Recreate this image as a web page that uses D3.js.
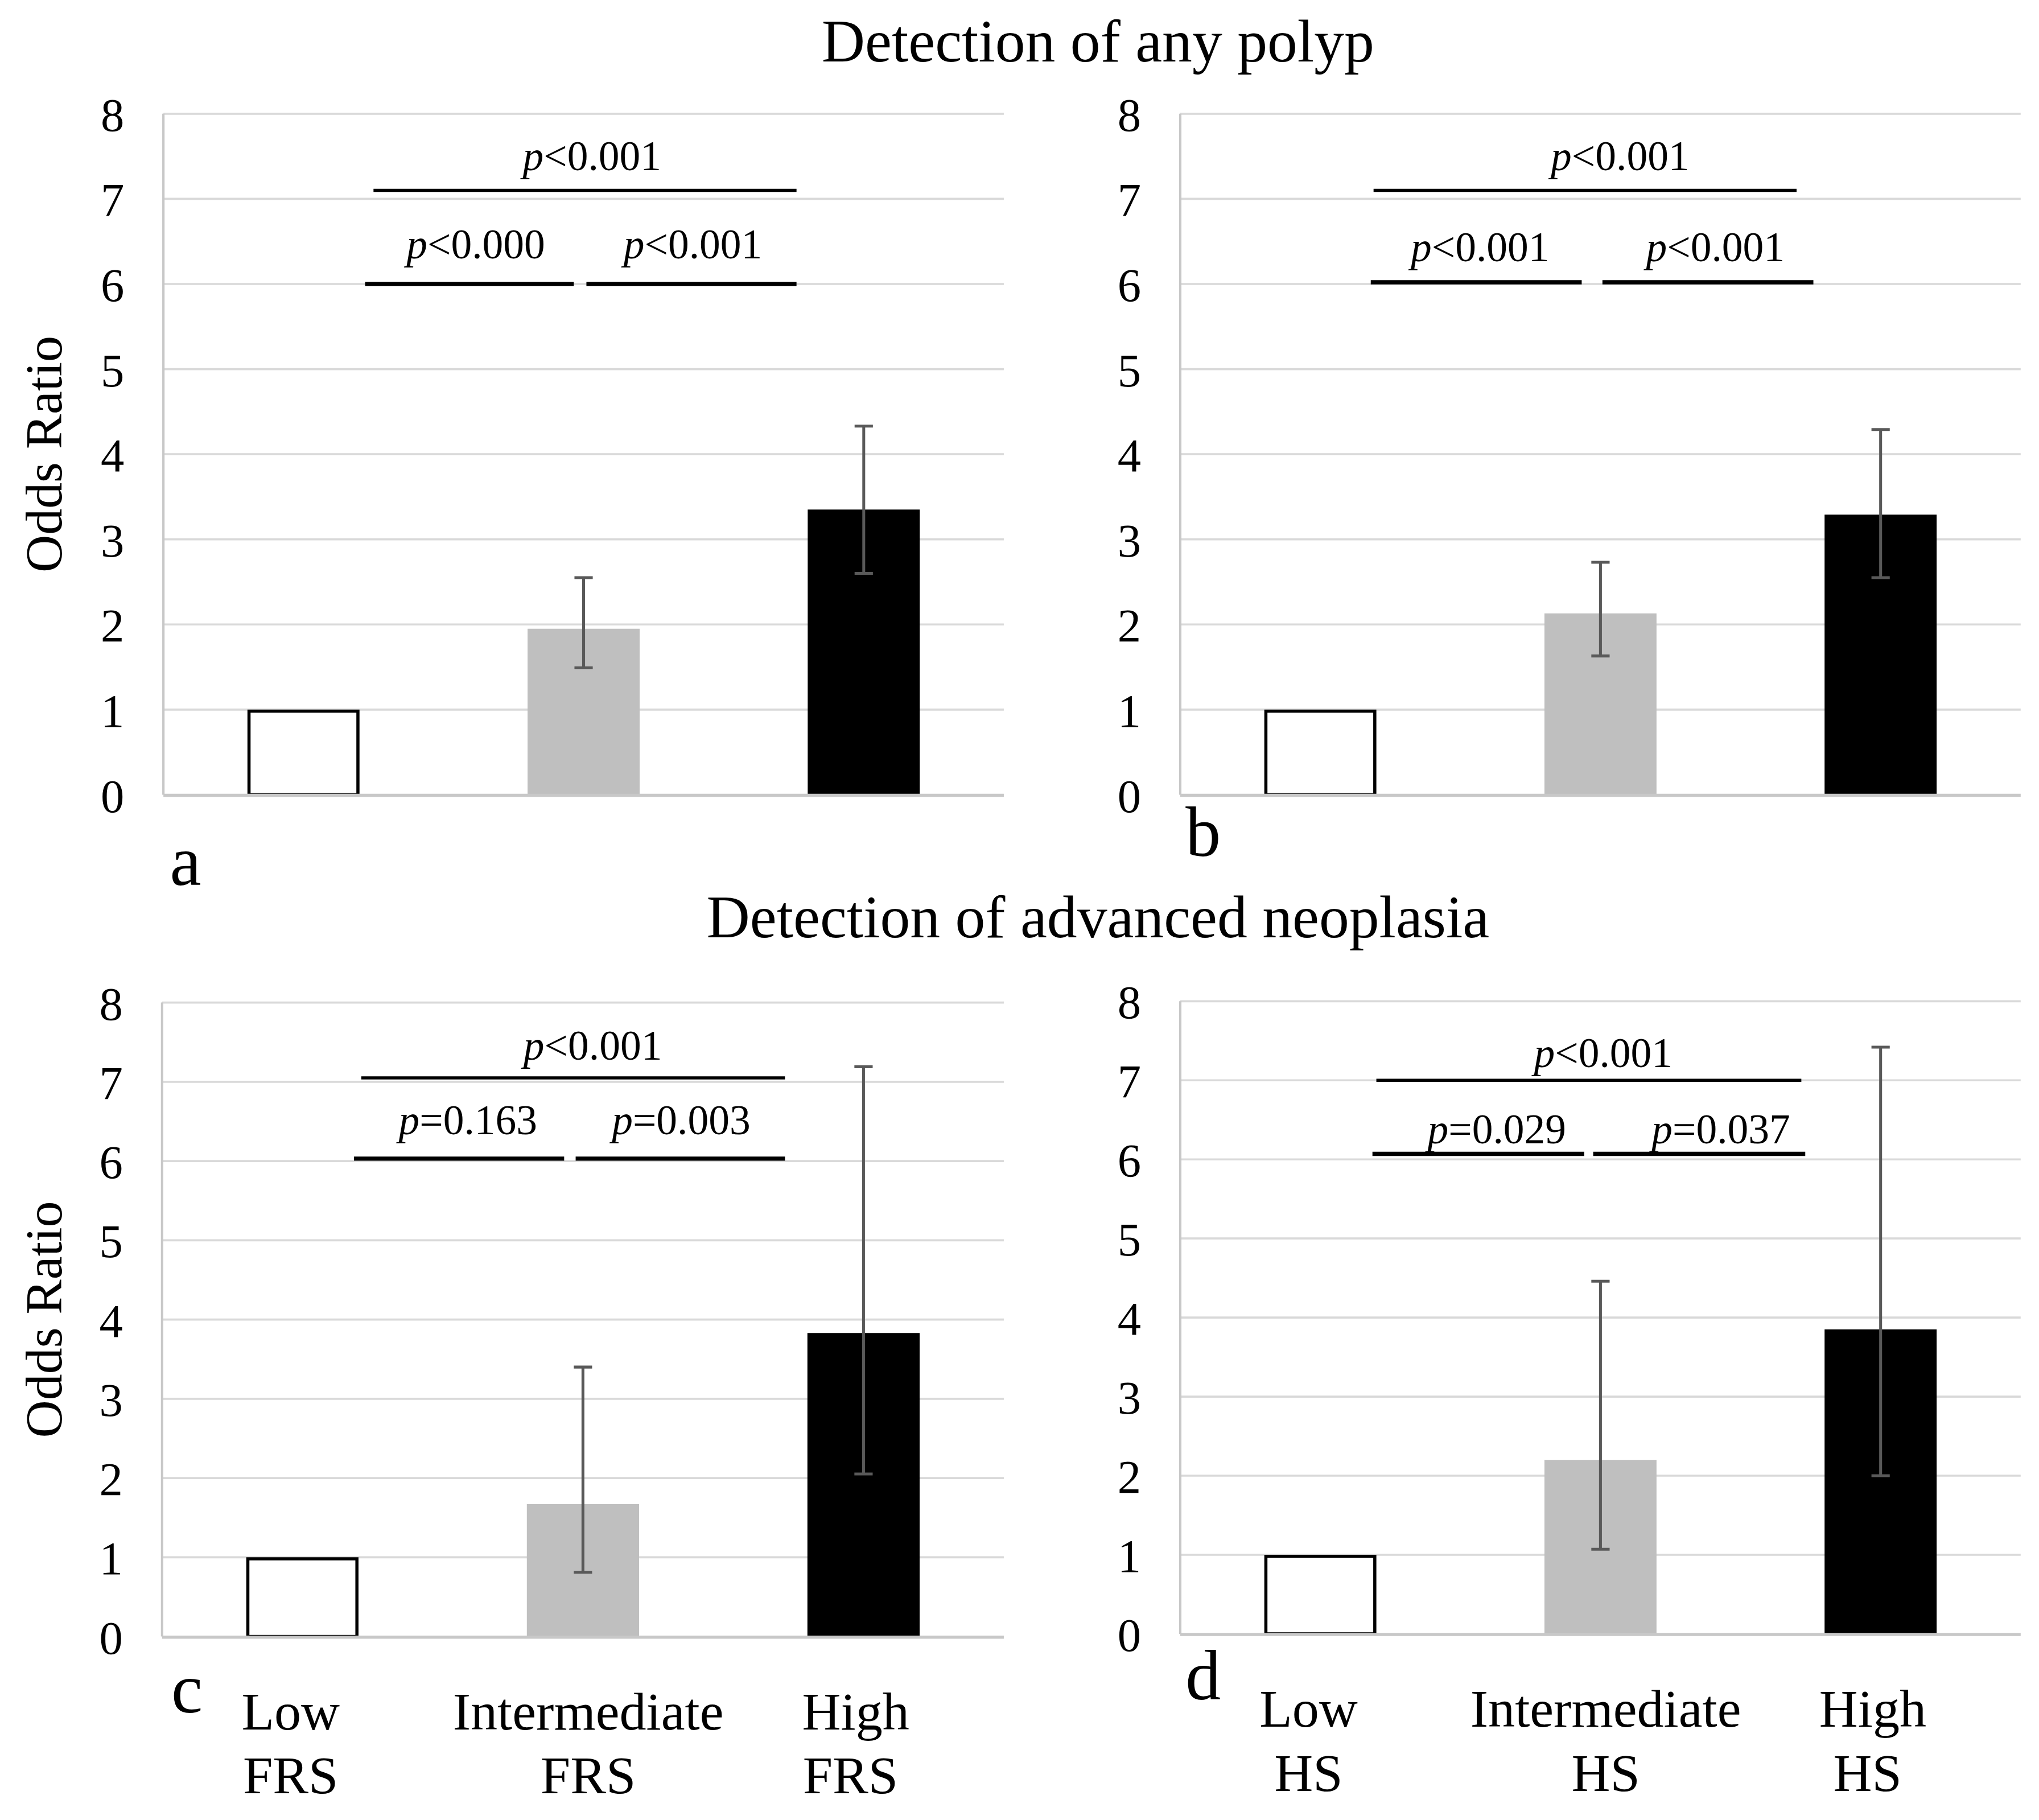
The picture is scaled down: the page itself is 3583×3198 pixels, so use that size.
<!DOCTYPE html>
<html>
<head>
<meta charset="utf-8">
<script src="https://cdn.jsdelivr.net/npm/d3@7"></script>
<style>
  body { margin: 0; background: #fff; }
  text { font-family: "Liberation Serif", "Times New Roman", serif; fill: #000; }
</style>
</head>
<body>
<script>
// categories and tick labels
const categories = ["Low", "Intermediate", "High"];
const yTicks = [0, 1, 2, 3, 4, 5, 6, 7, 8];
const titles = ["Detection of any polyp", "Detection of advanced neoplasia"];

// odds ratios with 95% CI (Low is the reference, no CI)
const oddsA = [1.00, 1.95, 3.35];
const lowA = [null, 1.49, 2.60];
const highA = [null, 2.55, 4.33];

const oddsB = [1.00, 2.13, 3.29];
const lowB = [null, 1.63, 2.55];
const highB = [null, 2.73, 4.29];

const oddsC = [1.00, 1.67, 3.83];
const lowC = [null, 0.81, 2.05];
const highC = [null, 3.40, 7.19];

const oddsD = [1.00, 2.20, 3.85];
const lowD = [null, 1.07, 2.00];
const highD = [null, 4.46, 7.42];

// significance brackets: span in category units (0..3), height in odds ratio units
const bracketsA = [
    { from: 0.75, to: 2.26, y: 7.1, label: "<0.001", lx: 1.53, ly: 7.34 },
    { from: 0.72, to: 1.465, y: 6.0, label: "<0.000", lx: 1.115, ly: 6.3 },
    { from: 1.51, to: 2.26, y: 6.0, label: "<0.001", lx: 1.89, ly: 6.3 }
];
const bracketsB = [
    { from: 0.69, to: 2.2, y: 7.1, label: "<0.001", lx: 1.57, ly: 7.34 },
    { from: 0.68, to: 1.433, y: 6.02, label: "<0.001", lx: 1.07, ly: 6.27 },
    { from: 1.507, to: 2.26, y: 6.02, label: "<0.001", lx: 1.91, ly: 6.27 }
];
const bracketsC = [
    { from: 0.71, to: 2.22, y: 7.05, label: "<0.001", lx: 1.535, ly: 7.28 },
    { from: 0.684, to: 1.433, y: 6.03, label: "=0.163", lx: 1.09, ly: 6.34 },
    { from: 1.474, to: 2.22, y: 6.03, label: "=0.003", lx: 1.85, ly: 6.34 }
];
const bracketsD = [
    { from: 0.7, to: 2.217, y: 7.0, label: "<0.001", lx: 1.51, ly: 7.17 },
    { from: 0.686, to: 1.442, y: 6.07, label: "=0.029", lx: 1.13, ly: 6.2 },
    { from: 1.474, to: 2.231, y: 6.07, label: "=0.037", lx: 1.93, ly: 6.2 }
];

const barFill = ["#ffffff", "#bfbfbf", "#000000"];

const svg = d3.select("body").append("svg")
    .attr("width", 3583)
    .attr("height", 3198)
    .attr("viewBox", "0 0 1560 1392.4")
    .attr("font-family", "Liberation Serif");

// titles
svg.append("text").attr("x", 840).attr("y", 47)
    .attr("text-anchor", "middle").attr("font-size", 46).text(titles[0]);
svg.append("text").attr("x", 840).attr("y", 717)
    .attr("text-anchor", "middle").attr("font-size", 46).text(titles[1]);

const panels = [
    { odds: oddsA, lo: lowA, hi: highA, brackets: bracketsA, left: 125, right: 768, top: 87, bottom: 608,
      letter: "a", lx: 130, ly: 677, yLabel: true, score: null },
    { odds: oddsB, lo: lowB, hi: highB, brackets: bracketsB, left: 903, right: 1546, top: 87, bottom: 608,
      letter: "b", lx: 907, ly: 655, yLabel: false, score: null },
    { odds: oddsC, lo: lowC, hi: highC, brackets: bracketsC, left: 124, right: 768, top: 767, bottom: 1252,
      letter: "c", lx: 131, ly: 1310, yLabel: true, score: "FRS" },
    { odds: oddsD, lo: lowD, hi: highD, brackets: bracketsD, left: 903, right: 1546, top: 766, bottom: 1250,
      letter: "d", lx: 907, ly: 1300, yLabel: false, score: "HS" }
];

panels.forEach(p => {
    const g = svg.append("g");

    const x = d3.scaleBand()
        .domain(categories)
        .range([p.left, p.right])
        .paddingInner(0.6)
        .paddingOuter(0.3);
    const xr = d3.scaleLinear().domain([0, 3]).range([p.left, p.right]);
    const y = d3.scaleLinear().domain([0, 8]).range([p.bottom, p.top]);

    // gridlines
    g.selectAll("line.grid")
        .data(yTicks.filter(t => t > 0))
        .join("line")
        .attr("x1", p.left).attr("x2", p.right)
        .attr("y1", d => y(d)).attr("y2", d => y(d))
        .attr("stroke", "#d9d9d9").attr("stroke-width", 1.6);

    // y axis labels
    const ax = g.append("g")
        .attr("transform", `translate(${p.left},0)`)
        .call(d3.axisLeft(y).tickValues(yTicks).tickSize(0).tickPadding(30).tickFormat(d3.format("d")));
    ax.attr("font-family", "Liberation Serif");
    ax.select(".domain").remove();
    ax.selectAll("text")
        .attr("font-size", 36)
        .attr("fill", "#000")
        .attr("dy", "0.35em");

    // axis lines
    g.append("line")
        .attr("x1", p.left).attr("x2", p.left)
        .attr("y1", p.top).attr("y2", p.bottom)
        .attr("stroke", "#c8c8c8").attr("stroke-width", 1.8);

    // bars
    g.selectAll("rect.bar")
        .data(p.odds)
        .join("rect")
        .attr("x", (d, i) => x(categories[i]) + (i === 0 ? 1.2 : 0))
        .attr("width", (d, i) => x.bandwidth() - (i === 0 ? 2.4 : 0))
        .attr("y", (d, i) => y(d) + (i === 0 ? 1.2 : 0))
        .attr("height", (d, i) => y(0) - y(d) - (i === 0 ? 1.2 : 0))
        .attr("fill", (d, i) => barFill[i])
        .attr("stroke", (d, i) => i === 0 ? "#000" : "none")
        .attr("stroke-width", 2.4);

    g.append("line")
        .attr("x1", p.left).attr("x2", p.right)
        .attr("y1", p.bottom + 0.5).attr("y2", p.bottom + 0.5)
        .attr("stroke", "#c8c8c8").attr("stroke-width", 2.4);

    // error bars
    const errs = p.odds.map((d, i) => ({ i, lo: p.lo[i], hi: p.hi[i] })).filter(e => e.lo !== null);
    const eg = g.selectAll("g.err").data(errs).join("g")
        .attr("stroke", "#595959").attr("stroke-width", 2.2);
    const cx = e => x(categories[e.i]) + x.bandwidth() / 2;
    eg.append("line")
        .attr("x1", cx).attr("x2", cx)
        .attr("y1", e => y(e.lo)).attr("y2", e => y(e.hi));
    eg.append("line")
        .attr("x1", e => cx(e) - 7).attr("x2", e => cx(e) + 7)
        .attr("y1", e => y(e.lo)).attr("y2", e => y(e.lo));
    eg.append("line")
        .attr("x1", e => cx(e) - 7).attr("x2", e => cx(e) + 7)
        .attr("y1", e => y(e.hi)).attr("y2", e => y(e.hi));

    // significance brackets
    g.selectAll("line.br")
        .data(p.brackets)
        .join("line")
        .attr("x1", d => xr(d.from)).attr("x2", d => xr(d.to))
        .attr("y1", d => y(d.y)).attr("y2", d => y(d.y))
        .attr("stroke", "#000")
        .attr("stroke-width", (d, i) => i === 0 ? 2.4 : 3.2);

    const lt = g.selectAll("text.pv")
        .data(p.brackets)
        .join("text")
        .attr("x", d => xr(d.lx))
        .attr("y", d => y(d.ly))
        .attr("text-anchor", "middle")
        .attr("font-size", 32);
    lt.append("tspan").attr("font-style", "italic").text("p");
    lt.append("tspan").text(d => d.label);

    // panel letter
    g.append("text").attr("x", p.lx).attr("y", p.ly)
        .attr("font-size", 54).text(p.letter);

    // y axis title
    if (p.yLabel) {
        g.append("text")
            .attr("transform", `translate(47,${(p.top + p.bottom) / 2}) rotate(-90)`)
            .attr("text-anchor", "middle")
            .attr("font-size", 40)
            .text("Odds Ratio");
    }

    // category labels
    if (p.score) {
        const cl = g.selectAll("text.cat")
            .data(categories)
            .join("text")
            .attr("text-anchor", "middle")
            .attr("font-size", 41);
        cl.append("tspan")
            .attr("x", (d, i) => x(d) + x.bandwidth() / 2 + [-9, 4, -6][i])
            .attr("y", p.bottom + 71)
            .text(d => d);
        cl.append("tspan")
            .attr("x", (d, i) => x(d) + x.bandwidth() / 2 + [-9, 4, -10][i])
            .attr("y", p.bottom + 120)
            .text(p.score);
    }
});
</script>
</body>
</html>
